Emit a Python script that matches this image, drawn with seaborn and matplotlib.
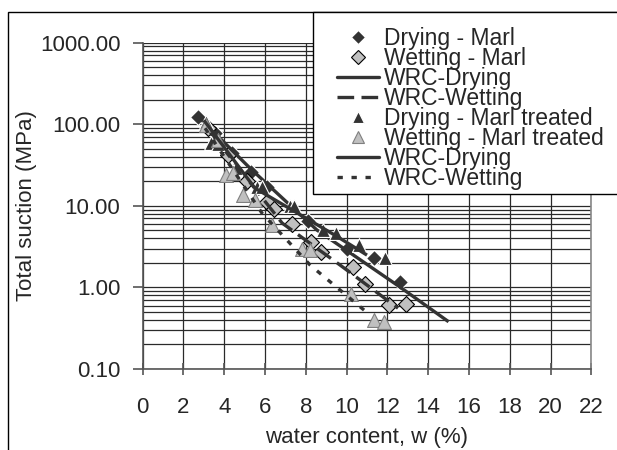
import matplotlib
matplotlib.use("Agg")
import numpy as np
import pandas as pd
import matplotlib.pyplot as plt
import seaborn as sns
from matplotlib.lines import Line2D
from matplotlib.patches import Rectangle
from matplotlib.ticker import FixedLocator, FuncFormatter, NullFormatter, LogLocator

# ---------------- data ----------------
dry_marl_w = [2.7, 3.55, 4.4, 5.3, 6.1, 8.1, 10.0, 11.35, 12.6]
dry_marl_s = [122, 78, 44, 26, 17, 6.5, 2.95, 2.3, 1.16]

wet_marl_w = [3.2, 4.2, 5.1, 6.1, 6.45, 7.3, 8.25, 8.75, 10.3, 10.9, 12.1, 12.9]
wet_marl_s = [90, 42, 20, 11, 9.1, 6.0, 3.6, 2.7, 1.8, 1.1, 0.61, 0.62]

dry_tr_w = [3.1, 3.35, 3.7, 4.6, 5.6, 5.85, 7.2, 7.4, 8.85, 9.5, 10.6, 11.9]
dry_tr_s = [106, 59, 57, 29, 17, 17, 9.9, 9.9, 5.0, 4.6, 3.3, 2.3]

wet_tr_w = [3.1, 3.7, 4.1, 4.45, 4.9, 5.5, 6.35, 7.8, 8.2, 10.2, 11.35, 11.85]
wet_tr_s = [97, 64, 24, 25, 13.5, 11.7, 5.8, 2.95, 2.9, 0.83, 0.40, 0.38]

wrc_dry_marl_w = [2.8, 5.26, 8.55, 12.62, 15.0]
wrc_dry_marl_s = [119, 29, 5.04, 1.01, 0.38]

wrc_wet_marl_w = [3.06, 6.84, 9.68, 12.52]
wrc_wet_marl_s = [97, 6.14, 1.88, 0.557]

wrc_dry_tr_w = [3.0, 5.5, 7.5, 9.5, 11.0]
wrc_dry_tr_s = [112, 16.5, 8.4, 4.26, 2.49]

wrc_wet_tr_w = [3.06, 5.85, 8.21, 11.15]
wrc_wet_tr_s = [89.6, 8.14, 1.88, 0.458]

legend_labels = ["Drying - Marl", "Wetting - Marl", "WRC-Drying", "WRC-Wetting",
                 "Drying - Marl treated", "Wetting - Marl treated", "WRC-Drying", "WRC-Wetting"]

y_major = [0.1, 1, 10, 100, 1000]
x_ticks = list(range(0, 23, 2))

# ---------------- style ----------------
sns.set_style("white")
plt.rcParams["font.family"] = ["Liberation Sans", "DejaVu Sans"]
FS = 16
LFS = 16.5
DARK = "#333333"
LIGHT = "#c0c0c0"
LINE = "#333333"
LW = 2.4
LONG = (5.0, 2.2)
SHORT = (1.6, 2.6)

W, H = 617, 450
fig = plt.figure(figsize=(W / 100, H / 100), dpi=100)
fig.patch.set_facecolor("white")
ax = fig.add_axes([142.7 / W, 1 - 369 / H, (591.3 - 142.7) / W, (369 - 42.7) / H])
ax.set_facecolor("white")

# ---------------- marks ----------------
d1 = pd.DataFrame({"w": dry_marl_w, "s": dry_marl_s})
d2 = pd.DataFrame({"w": wet_marl_w, "s": wet_marl_s})
d3 = pd.DataFrame({"w": dry_tr_w, "s": dry_tr_s})
d4 = pd.DataFrame({"w": wet_tr_w, "s": wet_tr_s})

sns.scatterplot(data=d1, x="w", y="s", marker="D", s=66, color=DARK,
                edgecolor="white", linewidth=0.8, ax=ax, zorder=4)
sns.scatterplot(data=d2, x="w", y="s", marker="D", s=66, color=LIGHT,
                edgecolor="black", linewidth=0.8, ax=ax, zorder=4)

def curve(ws, ss, dashes, z):
    df = pd.DataFrame({"w": ws, "s": ss})
    sns.lineplot(data=df, x="w", y="s", sort=False, estimator=None, color=LINE,
                 linewidth=LW, ax=ax, zorder=z)
    ln = ax.lines[-1]
    if dashes is not None:
        ln.set_dashes(dashes)
    ln.set_solid_capstyle("butt")
    ln.set_dash_capstyle("butt")

curve(wrc_dry_marl_w, wrc_dry_marl_s, None, 5)
curve(wrc_wet_marl_w, wrc_wet_marl_s, LONG, 5)

sns.scatterplot(data=d3, x="w", y="s", marker="^", s=100, color=DARK,
                edgecolor="white", linewidth=0.8, ax=ax, zorder=6)
sns.scatterplot(data=d4, x="w", y="s", marker="^", s=100, color=LIGHT,
                edgecolor="#808080", linewidth=0.8, ax=ax, zorder=6)

curve(wrc_dry_tr_w, wrc_dry_tr_s, None, 7)
curve(wrc_wet_tr_w, wrc_wet_tr_s, SHORT, 7)

# ---------------- axes ----------------
ax.set_yscale("log")
ax.set_ylim(0.1, 1000)
ax.set_xlim(0, 22)
ax.set_xticks(x_ticks)
ax.set_xticklabels([str(t) for t in x_ticks])
ax.yaxis.set_major_locator(FixedLocator(y_major))
ax.yaxis.set_minor_locator(LogLocator(base=10, subs=range(2, 10)))
ax.yaxis.set_major_formatter(FuncFormatter(lambda v, p: f"{v:.2f}"))
ax.yaxis.set_minor_formatter(NullFormatter())

ax.grid(True, which="both", axis="y", color="#2a2a2a", linewidth=0.9)
ax.grid(True, which="major", axis="x", color="#2a2a2a", linewidth=0.9)
ax.set_axisbelow(True)

for side in ["left", "bottom"]:
    ax.spines[side].set_color("#555555")
    ax.spines[side].set_linewidth(1.2)
ax.spines["top"].set_visible(False)
ax.spines["right"].set_color("#888888")
ax.spines["right"].set_linewidth(1.2)

ax.tick_params(axis="y", which="major", direction="out", length=7, width=1.2,
               color="#555555", labelsize=FS, pad=9, left=True)
ax.tick_params(axis="y", which="minor", length=0)
ax.tick_params(axis="x", which="major", direction="inout", length=9, width=1.2,
               color="#555555", labelsize=FS, pad=16, bottom=True)

ax.set_xlabel("water content, w (%)", fontsize=FS)
ax.set_ylabel("Total suction (MPa)", fontsize=FS)
ax.xaxis.label.set_va("center")
ax.yaxis.label.set_va("center")
ax.xaxis.set_label_coords((367 - 142.7) / (591.3 - 142.7), (369 - 437) / (369 - 42.7))
ax.yaxis.set_label_coords((27 - 142.7) / (591.3 - 142.7), 0.5)

# ---------------- figure frame & legend ----------------
fig.add_artist(Rectangle((8 / W, -0.2), 1.5, 1.2 - 11.5 / H, transform=fig.transFigure,
                         fill=False, edgecolor="black", linewidth=1.0, zorder=1))
fig.add_artist(Rectangle((313 / W, 1 - 194 / H), 1.0, (194 - 11.5) / H,
                         transform=fig.transFigure, facecolor="white",
                         edgecolor="black", linewidth=1.0, zorder=8))

handles = [
    Line2D([], [], linestyle="none", marker="D", markersize=7, markerfacecolor=DARK,
           markeredgecolor="white", markeredgewidth=0.8),
    Line2D([], [], linestyle="none", marker="D", markersize=7, markerfacecolor=LIGHT,
           markeredgecolor="black", markeredgewidth=0.8),
    Line2D([], [], color=LINE, linewidth=LW),
    Line2D([], [], color=LINE, linewidth=LW, dashes=LONG),
    Line2D([], [], linestyle="none", marker="^", markersize=8, markerfacecolor=DARK,
           markeredgecolor="white", markeredgewidth=0.8),
    Line2D([], [], linestyle="none", marker="^", markersize=8, markerfacecolor=LIGHT,
           markeredgecolor="#808080", markeredgewidth=0.8),
    Line2D([], [], color=LINE, linewidth=LW),
    Line2D([], [], color=LINE, linewidth=LW, dashes=SHORT),
]
leg = fig.legend(handles, legend_labels, loc="upper left",
                 bbox_to_anchor=(336.7 / W, 1 - 27 / H), bbox_transform=fig.transFigure,
                 frameon=False, fontsize=LFS, handlelength=1.85, handletextpad=0.2,
                 labelspacing=-0.13, borderpad=0, borderaxespad=0)
leg.set_zorder(9)

fig.savefig("out.png", dpi=100, facecolor="white")
